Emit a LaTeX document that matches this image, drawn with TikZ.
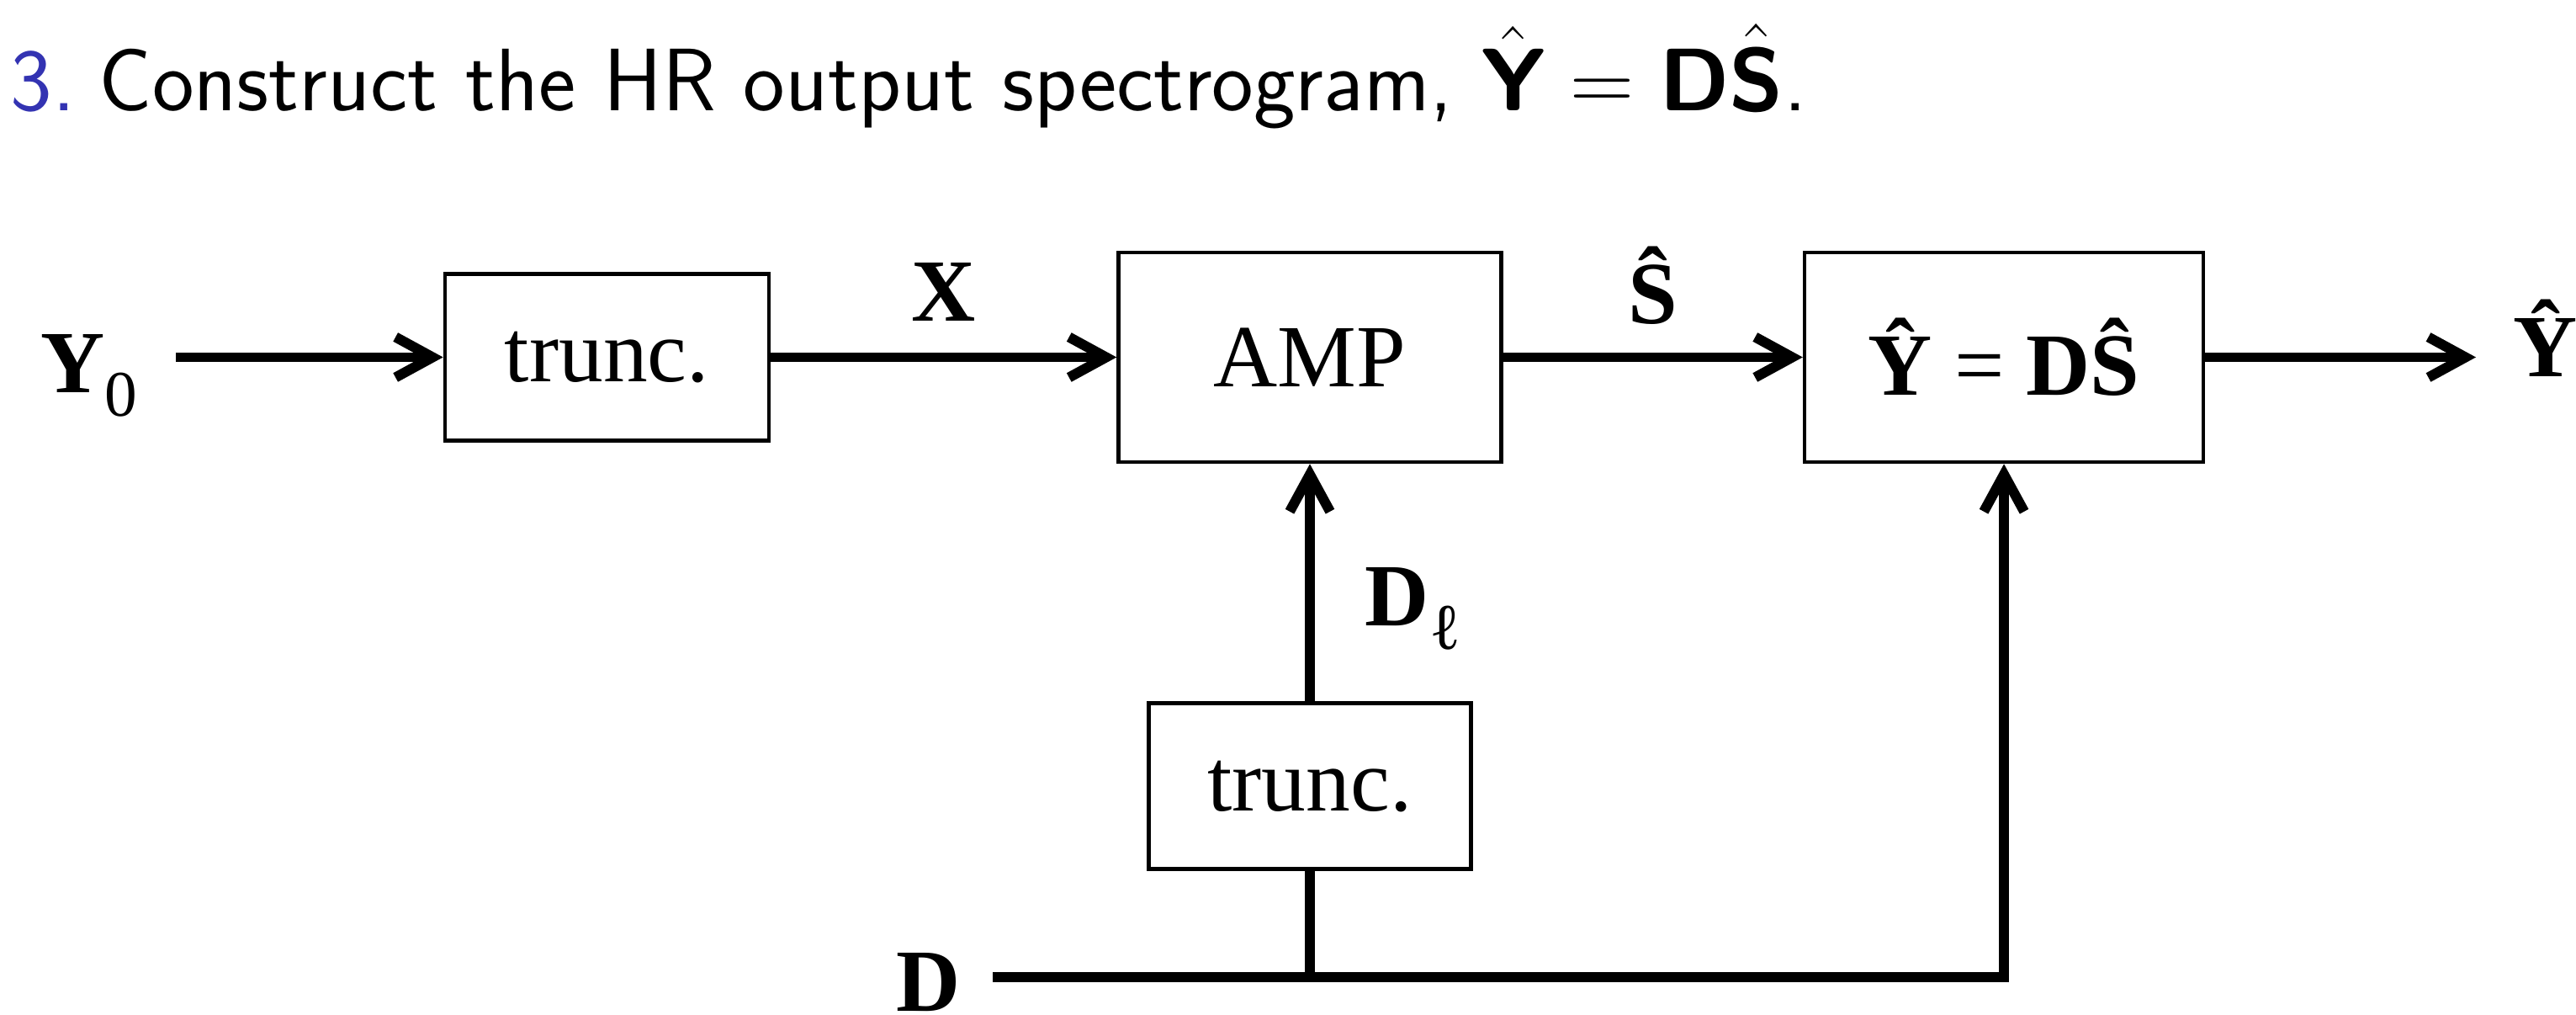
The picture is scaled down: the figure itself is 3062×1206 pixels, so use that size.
\RequirePackage{fix-cm}
\documentclass[tikz,border=0pt]{standalone}
\usepackage{amsmath}
\usepackage{fontspec}
\usepackage{tikz}
\usetikzlibrary{positioning, arrows.meta}
\newfontfamily\diagfont{Liberation Serif}
\definecolor{itemblue}{rgb}{0.2,0.2,0.7}
\newcommand{\lowsub}[1]{\raisebox{-2.8mm}{\mdseries\fontsize{22}{22}\selectfont #1}}

\begin{document}
\begin{tikzpicture}[
    x=0.1mm, y=-0.1mm,
    node distance=28.2mm and 41.1mm,
    box/.style={rectangle, draw, line width=1.3pt, inner sep=0pt, font=\diagfont\fontsize{30}{36}\selectfont},
    lab/.style={inner sep=0pt, font=\diagfont\bfseries\fontsize{30}{36}\selectfont},
    arrow/.style={-{Straight Barb[length=4.4mm, width=4.8mm]}, line width=3.4pt},
    wire/.style={line width=3.4pt}
]
    \useasboundingbox (0,0) rectangle (3062,1206);

    % Slide text
    \node[anchor=base west, inner sep=0pt, font=\sffamily\fontsize{30}{36}\selectfont] (title) at (12,132)
        {\textcolor{itemblue}{3.}\hspace{2.8mm}Construct the HR output spectrogram, $\hat{\textbf{Y}} = \textbf{D}\hat{\textbf{S}}$.};

    % Blocks
    \node[box, minimum width=45.5mm, minimum height=24.9mm] (amp) at (1557,424.5) {AMP};
    \node[box, minimum width=38.5mm, minimum height=19.8mm, left=of amp] (trunc1) {trunc.};
    \node[box, minimum width=47.4mm, minimum height=24.9mm, right=35.6mm of amp] (res) {{\bfseries Ŷ} = {\bfseries DŜ}};
    \node[box, minimum width=38.3mm, minimum height=19.7mm, below=of amp] (trunc2) {trunc.};

    % Signals
    \node[lab, anchor=base west] (y0) at (48,467) {Y\lowsub{0}};
    \node[lab, anchor=base west] (yhat) at (2987,448) {Ŷ};
    \node[lab, anchor=base west] (dlab) at (1065,1201) {D};
    \coordinate (dstart) at (1180,1161);
    \coordinate (dsplit) at (trunc2.south |- dstart);

    % Connections
    \draw[arrow] ([xshift=4.5mm]y0.east |- trunc1.west) -- (trunc1.west);
    \draw[arrow] (trunc1) -- node[lab, anchor=base, yshift=4.3mm] (xlab) {X} (amp);
    \draw[arrow] (amp) -- node[lab, anchor=base, yshift=4mm] (shat) {Ŝ} (res);
    \draw[arrow] (res.east) -- ([xshift=-4.4mm]yhat.west |- res.east);
    \draw[arrow] (trunc2.north) -- node[lab, anchor=base west, pos=0.32, xshift=6mm] (dl) {D\lowsub{ℓ}} (amp.south);
    \draw[arrow] (dstart) -| (res.south);
    \draw[wire] (dsplit) -- (trunc2.south);

\end{tikzpicture}
\end{document}
